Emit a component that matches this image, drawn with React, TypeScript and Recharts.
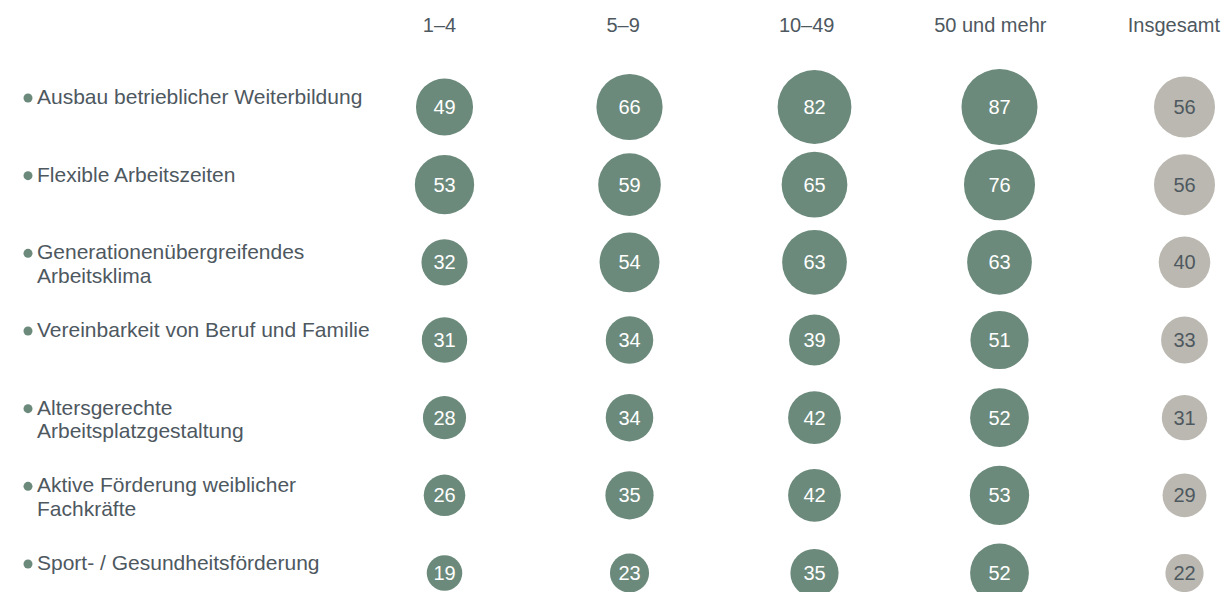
import { LabelList, Scatter, ScatterChart, XAxis, YAxis, ZAxis } from "recharts"

const columns = ["1–4", "5–9", "10–49", "50 und mehr", "Insgesamt"]

const rowLabels = [
  "Ausbau betrieblicher Weiterbildung",
  "Flexible Arbeitszeiten",
  "Generationenübergreifendes\nArbeitsklima",
  "Vereinbarkeit von Beruf und Familie",
  "Altersgerechte\nArbeitsplatzgestaltung",
  "Aktive Förderung weiblicher\nFachkräfte",
  "Sport- / Gesundheitsförderung",
]

// Werte je Betriebsgrößenklasse (Beschäftigte), Reihenfolge wie rowLabels
const size1to4 = [49, 53, 32, 31, 28, 26, 19]
const size5to9 = [66, 59, 54, 34, 34, 35, 23]
const size10to49 = [82, 65, 63, 39, 42, 42, 35]
const size50plus = [87, 76, 63, 51, 52, 53, 52]
const total = [56, 56, 40, 33, 31, 29, 22]

const GREEN = "#6b8a7b"
const GREY = "#bbb8b1"
const TEXT = "#4e585f"
const FONT = "'Liberation Sans', Arial, sans-serif"

const groups = [size1to4, size5to9, size10to49, size50plus]

const groupData = groups.flatMap((values, col) =>
  values.map((v, row) => ({ x: col, y: row, z: v }))
)
const totalData = total.map((v, row) => ({ x: 4, y: row, z: v }))

function ColumnTick({ x, payload }: any) {
  // headers sit a little left of the bubble column
  const dx = -5 - 1.4 * payload.value
  return (
    <text x={x + dx} y={32} textAnchor="middle" fontSize={20} fill={TEXT} fontFamily={FONT}>
      {columns[payload.value]}
    </text>
  )
}

function RowTick({ y, payload }: any) {
  const lines = rowLabels[payload.value].split("\n")
  const base = y - 3
  return (
    <g>
      <circle cx={28} cy={base - 6} r={4.5} fill={GREEN} />
      <text x={37} y={base} fontSize={21} fill={TEXT} fontFamily={FONT}>
        {lines.map((l, i) => (
          <tspan key={i} x={37} dy={i === 0 ? 0 : 23.5}>
            {l}
          </tspan>
        ))}
      </text>
    </g>
  )
}

export default function App() {
  return (
    <div style={{ position: "absolute", left: 0, top: 0, fontFamily: FONT }}>
      <ScatterChart width={1222} height={592} margin={{ top: 0, right: 37.5, bottom: 19, left: 0 }}>
        <XAxis
          type="number"
          dataKey="x"
          orientation="top"
          domain={[0, 4]}
          ticks={[0, 1, 2, 3, 4]}
          interval={0}
          height={107}
          axisLine={false}
          tickLine={false}
          tick={<ColumnTick />}
        />
        <YAxis
          type="number"
          dataKey="y"
          domain={[0, 6]}
          ticks={[0, 1, 2, 3, 4, 5, 6]}
          interval={0}
          reversed
          width={444.5}
          axisLine={false}
          tickLine={false}
          tick={<RowTick />}
        />
        <ZAxis type="number" dataKey="z" domain={[0, 100]} range={[0, 5217]} />
        <Scatter data={groupData} fill={GREEN} isAnimationActive={false}>
          <LabelList dataKey="z" position="center" fill="#ffffff" fontSize={20} fontFamily={FONT} />
        </Scatter>
        <Scatter data={totalData} fill={GREY} isAnimationActive={false}>
          <LabelList dataKey="z" position="center" fill={TEXT} fontSize={20} fontFamily={FONT} />
        </Scatter>
      </ScatterChart>
    </div>
  )
}
